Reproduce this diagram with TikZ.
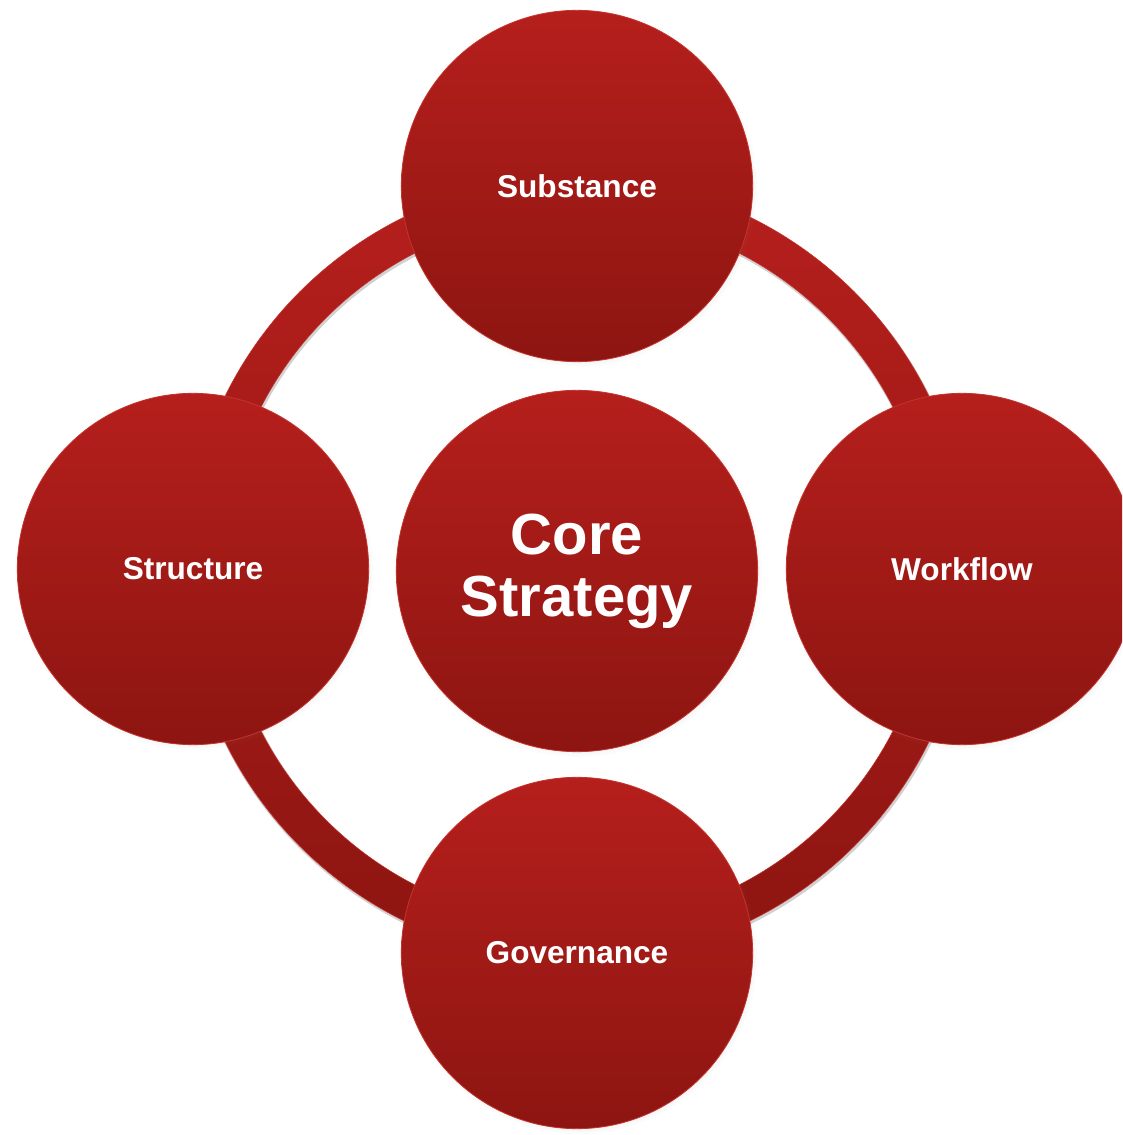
\documentclass[tikz,border=0pt]{standalone}
\usepackage{fontspec}
\setmainfont{Liberation Sans}
\usetikzlibrary{shadows}
\definecolor{redtop}{HTML}{B51F1C}
\definecolor{redbot}{HTML}{8D1511}
\definecolor{redrim}{HTML}{C4342D}
\tikzset{
  bubble/.style={circle, minimum size=263.5pt, inner sep=0pt,
    top color=redtop, bottom color=redbot, draw=redrim, line width=0.6pt,
    circular drop shadow={shadow scale=1.02, shadow xshift=1pt, shadow yshift=-1.5pt, opacity=0.3},
    text=white, font=\bfseries\fontsize{23.7}{26}\selectfont},
  hub/.style={bubble, minimum size=271pt, align=center,
    font=\bfseries\fontsize{43.5}{46.5}\selectfont}
}
\begin{document}
\begin{tikzpicture}[x=0.75pt, y=0.75pt]
\useasboundingbox (-577,-566) rectangle (545,569);
\clip (-577,-566) rectangle (545,569);
\path[fill=black!18, even odd rule] (1,-2) circle (393) (1,-2) circle (354);
\path[top color=redtop, bottom color=redbot, draw=redrim, line width=0.4pt, even odd rule]
  (0,0) circle (392) (0,0) circle (355);
\node[hub] (core) at (0,-2) {Core\\Strategy};
\foreach \name/\x/\y/\label in {substance/0/383/Substance, workflow/385/0/Workflow,
    governance/0/-384/Governance, structure/-384/0/Structure}
  \node[bubble] (\name) at (\x,\y) {\label};
\end{tikzpicture}
\end{document}
